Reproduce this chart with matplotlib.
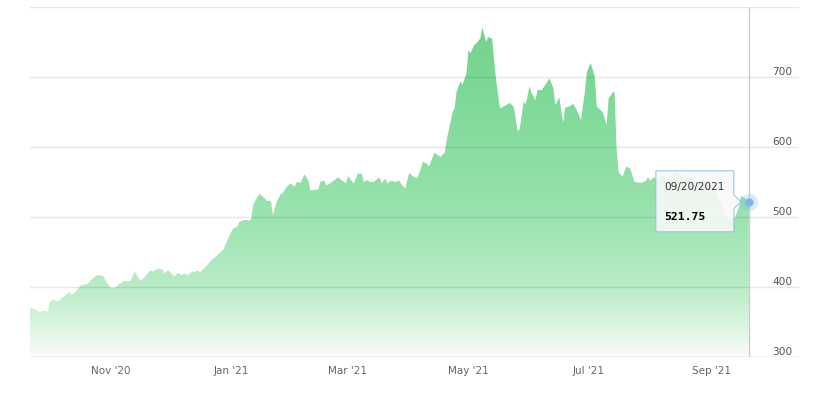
import matplotlib
matplotlib.use("Agg")
import matplotlib.pyplot as plt
import matplotlib.dates as mdates
from matplotlib.colors import LinearSegmentedColormap
from matplotlib.patches import Polygon
from matplotlib.transforms import IdentityTransform
import numpy as np
import pandas as pd

# price series (day offsets from the first point)
start_date = "2020-09-21"
day_offsets = [
    0, 2, 5, 7, 9, 10, 12, 14, 17, 18, 20, 21, 23, 26, 29, 31, 34, 37, 39, 41,
    43, 45, 48, 50, 51, 53, 54, 56, 58, 61, 62, 65, 67, 68, 70, 73, 75, 77, 78, 80,
    82, 84, 85, 86, 89, 92, 95, 98, 100, 101, 103, 105, 106, 109, 111, 112, 113, 116, 118, 120,
    122, 123, 125, 127, 128, 130, 132, 134, 135, 137, 139, 141, 142, 144, 146, 147, 149, 150, 152, 156,
    158, 160, 161, 163, 164, 166, 168, 169, 171, 172, 174, 177, 178, 180, 181, 183, 185, 187, 188, 190,
    192, 194, 196, 197, 199, 201, 202, 204, 205, 206, 208, 210, 211, 214, 215, 216, 218, 219, 221, 222,
    223, 225, 226, 228, 229, 231, 232, 234, 235, 236, 238, 240, 243, 245, 247, 248, 250, 251, 253, 254,
    256, 257, 259, 261, 263, 265, 266, 268, 270, 271, 274, 275, 277, 279, 281, 282, 284, 286, 287, 290,
    292, 293, 295, 296, 297, 298, 300, 302, 304, 306, 308, 310, 312, 313, 314, 316, 317, 320, 322, 325,
    327, 330, 332, 335, 337, 340, 342, 345, 347, 350, 352, 355, 357, 359, 360, 362, 364,
]
prices = [
    369.5, 369, 364, 366, 365, 379, 382, 379, 386, 388, 393, 388, 393, 403, 404, 410, 417, 416, 405, 399,
    399, 404, 409, 408, 409, 422, 417, 409, 414, 424, 422, 426, 425, 419.5, 424, 415, 420, 417, 419, 417,
    422, 422, 424, 421, 429, 438.6, 445.7, 453.8, 467, 474, 484, 486, 493, 496, 495, 497, 517, 533, 529, 523,
    523, 503, 522, 533, 534, 543, 548, 543, 550, 549, 561, 552, 537.6, 539, 539, 550, 552, 545, 548, 556.7,
    552, 548, 558.6, 551, 548, 562, 562, 550, 553, 550, 550, 556.7, 548, 555, 548, 552, 550, 552, 547, 541,
    563, 558, 555, 562, 579, 576, 572, 586, 592, 589, 586, 592, 610, 650, 655, 679, 694, 689, 705, 738.6,
    734, 746, 748, 755, 771, 750, 757, 755, 724, 696, 655, 658, 663, 657, 622, 626, 665, 661, 687, 677,
    667, 682, 681, 689, 698, 684, 660, 671, 634.7, 656, 659, 662, 652, 638.6, 679, 707.6, 720, 700, 657.6, 650,
    631, 669.6, 677.6, 679, 600, 564.7, 557.6, 572, 569, 550.5, 549, 549, 552, 557, 552, 557, 554, 560, 556, 560,
    566, 558, 553, 556, 550, 553, 548, 545, 535, 518, 500, 497, 499, 515, 530, 527, 521.75,
]
yticks = [300, 400, 500, 600, 700, 800]
ylabels = ["300", "400", "500", "600", "700", ""]
tooltip_date = "09/20/2021"
tooltip_value = "521.75"

dates = pd.Timestamp(start_date) + pd.to_timedelta(day_offsets, unit="D")
x = mdates.date2num(dates)
y = np.array(prices)

fig = plt.figure(figsize=(8.18, 3.99), dpi=100)
ax = fig.add_axes([30 / 818, 42 / 399, 769 / 818, 350 / 399])
ax.set_xlim(x[0], x[-1] + 25.4)
ax.set_ylim(300, 800)
for s in ax.spines.values():
    s.set_visible(False)

# gradient fill under the line
cmap = LinearSegmentedColormap.from_list("g", [
    (0.0, (250/255, 253/255, 250/255)),
    (0.1, (215/255, 244/255, 222/255)),
    (0.2, (185/255, 236/255, 198/255)),
    (0.4, (156/255, 227/255, 176/255)),
    (0.6, (136/255, 221/255, 160/255)),
    (0.8, (122/255, 216/255, 148/255)),
    (1.0, (110/255, 210/255, 138/255)),
])
poly = ax.fill_between(x, y, 300, facecolor="none", edgecolor="none")
grad = np.linspace(0, 1, 256).reshape(-1, 1)
im = ax.imshow(grad, cmap=cmap, origin="lower", aspect="auto",
               extent=[x[0], x[-1], 300, 800], zorder=1)
path = poly.get_paths()[0]
im.set_clip_path(path, transform=ax.transData)
ax.set_xlim(x[0], x[-1] + 25.4)
ax.set_ylim(300, 800)

# grid lines and right-side labels
for v, lab in zip(yticks, ylabels):
    ax.axhline(v, color="black", alpha=0.09, lw=1, zorder=2)
    ax.annotate(lab, xy=(1, v), xycoords=("axes fraction", "data"),
                xytext=(-4.5, 3.4), textcoords="offset points",
                ha="right", va="center", fontsize=7.6, color="#555555")
ax.axhline(300, color="#d6d6d6", lw=1, zorder=2)
ax.set_yticks([])

ax.xaxis.set_major_locator(mdates.MonthLocator(bymonth=[1, 3, 5, 7, 9, 11]))
ax.xaxis.set_major_formatter(mdates.DateFormatter("%b '%y"))
ax.tick_params(axis="x", length=0, pad=6.5, labelsize=7.5, labelcolor="#666666")

# crosshair and hover marker
ax.axvline(x[-1], color="#cccccc", lw=1, zorder=3)
ax.plot(x[-1], y[-1], "o", ms=12.5, color="#7cb5ec", alpha=0.25, mec="none", zorder=4)
ax.plot(x[-1], y[-1], "o", ms=5, color="#7cb5ec", mec="#7cb5ec", zorder=5)

# tooltip callout, placed in pixels relative to the hovered point
fig.canvas.draw()
px, py = ax.transData.transform((x[-1], y[-1]))
l, r, t, b = px - 93, px - 15, py + 31, py - 30
callout = Polygon([(l, b), (r, b), (r, py - 7), (px - 8, py), (r, py + 7), (r, t), (l, t)],
                  closed=True, transform=IdentityTransform(),
                  facecolor=(0.975, 0.975, 0.975), alpha=0.88,
                  edgecolor="#8fbfea", lw=0.8, zorder=6)
fig.add_artist(callout)
fig.text(px - 85, py + 15, tooltip_date, transform=IdentityTransform(),
         ha="left", va="center", fontsize=7.6, color="#333333", zorder=7)
fig.text(px - 85, py - 15, tooltip_value, transform=IdentityTransform(),
         ha="left", va="center", fontsize=8.2, color="black", fontweight="bold",
         family="DejaVu Sans Mono", zorder=7)

fig.savefig("out.png", dpi=100)
